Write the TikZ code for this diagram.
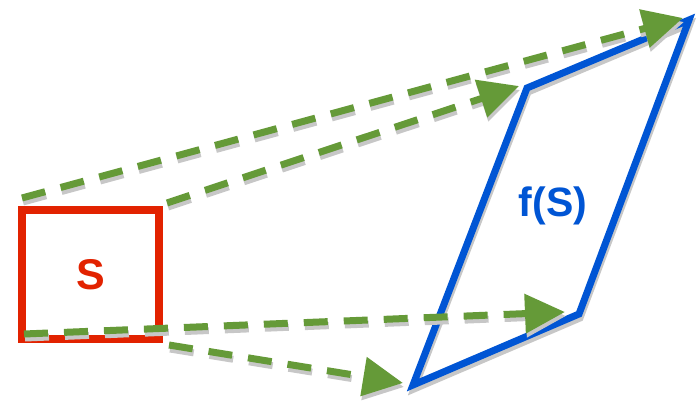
\documentclass[tikz,border=0pt]{standalone}
\usepackage{xcolor}
\usepackage{fontspec}
\setmainfont{Liberation Sans}
\usepackage{tikz}
\usetikzlibrary{arrows.meta,positioning,calc}

\definecolor{sqred}{RGB}{226,34,0}
\definecolor{imgblue}{RGB}{0,85,212}
\definecolor{mapgreen}{RGB}{101,154,56}

\tikzset{
  arrowlook/.style={line width=7pt, dash pattern=on 24pt off 16pt,
    -{Triangle[length=40pt,width=38pt]}},
  maparrow/.style={mapgreen, arrowlook,
    preaction={draw=black!22, arrowlook, transform canvas={shift={(1pt,-4pt)}}}},
  imgline/.style={imgblue, line width=7pt, line join=miter,
    preaction={draw=black!22, line width=7pt, transform canvas={shift={(1pt,-4pt)}}}}
}

\begin{document}
\begin{tikzpicture}[x=1pt,y=-1pt]
    \useasboundingbox (0,0) rectangle (696,401);
    % square S
    \node[draw=sqred, line width=8pt, minimum width=137pt, minimum height=129pt,
      inner sep=0pt, text=sqred, font=\bfseries\fontsize{43}{43}\selectfont] (S) at (90.5,274.5) {S};
    % image f(S)
    \coordinate (bl) at (413,385);
    \coordinate (br) at (579,314);
    \coordinate (tr) at (689,20);
    \coordinate (tl) at (527,88);
    \draw[imgline] (bl) -- (br) -- (tr) -- (tl) -- cycle;
    \node[text=imgblue, font=\bfseries\fontsize{41}{41}\selectfont] (fS) at (553,206) {f(S)};
    % corners mapped
    \draw[maparrow] ($(S.north west)+(4,-8)$) -- ($(tr)+(-6,-2)$);
    \draw[maparrow] ($(S.north east)+(4,-3)$) -- ($(tl)+(-8,-2)$);
    \draw[maparrow] ($(S.south west)+(6,-9)$) -- ($(br)+(-14,-2)$);
    \draw[maparrow] ($(S.south east)+(6,2)$) -- ($(bl)+(-10,-2)$);
\end{tikzpicture}
\end{document}
